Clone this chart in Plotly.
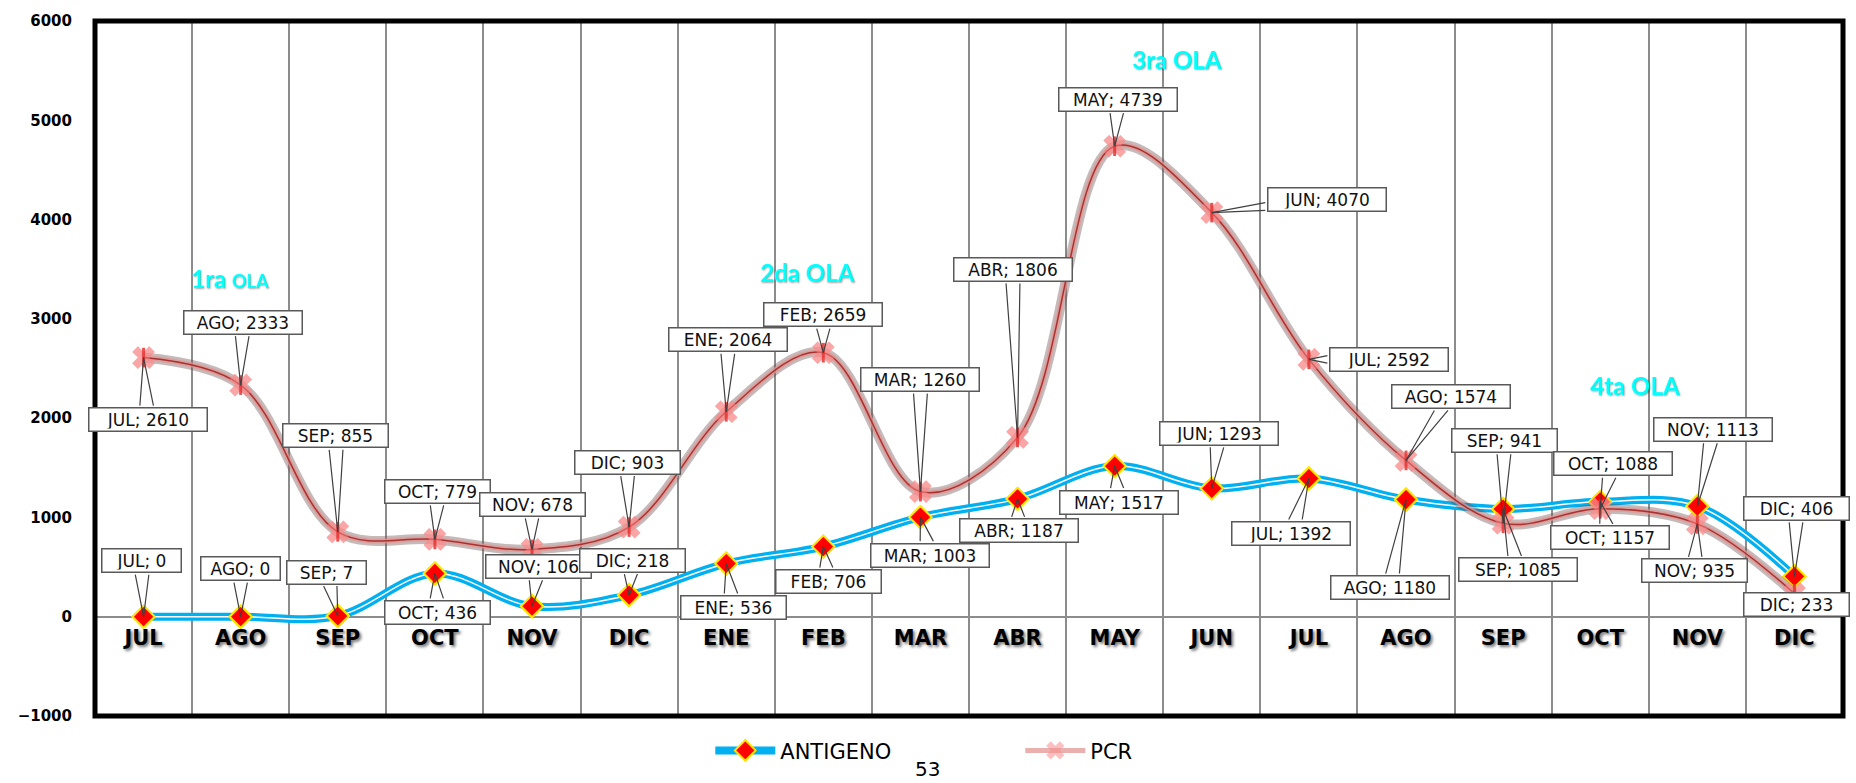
import plotly.graph_objects as go

# datos
months = ["JUL", "AGO", "SEP", "OCT", "NOV", "DIC", "ENE", "FEB", "MAR",
          "ABR", "MAY", "JUN", "JUL", "AGO", "SEP", "OCT", "NOV", "DIC"]
antigeno = [0, 0, 7, 436, 106, 218, 536, 706, 1003, 1187, 1517, 1293,
            1392, 1180, 1085, 1157, 1113, 406]
pcr = [2610, 2333, 855, 779, 678, 903, 2064, 2659, 1260, 1806, 4739, 4070,
       2592, 1574, 941, 1088, 935, 233]
olas = ["1ra <span style='font-size:18px'>OLA</span>", "2da OLA", "3ra OLA", "4ta OLA"]

# posiciones de las etiquetas (pixeles, relativo al punto)
pcr_off = [(4, 62), (2, -63), (-2, -96), (3, -48), (0, -45), (-2, -65), (2, -72),
           (0, -38), (0, -112), (-5, -168), (3, -47), (115, -13), (80, 0),
           (45, -64), (1, -83), (13, -45), (-3, 47), (2, 11)]
ant_off = [(-2, -56), (0, -48), (-11, -44), (3, 39), (6, -40), (3, -35), (7, 44),
           (5, 35), (10, 38), (1, 32), (4, 36), (7, -55), (-18, 55), (-16, 88),
           (15, 61), (10, 36), (16, -77), (2, -68)]
ola_pos = [(0.89, 3410), (6.83, 3470), (10.64, 5614), (15.36, 2330)]

y_min, y_max = -1000, 6000
x = list(range(len(months)))

fig = go.Figure()

# ANTIGENO
fig.add_trace(go.Scatter(
    x=x, y=antigeno, name="ANTIGENO", mode="lines+markers",
    line=dict(color="#00B0F0", width=8, shape="spline", smoothing=1),
    marker=dict(symbol="diamond", size=17, color="red", line=dict(color="#FFE600", width=2))))
fig.add_trace(go.Scatter(
    x=x, y=antigeno, mode="lines", showlegend=False, hoverinfo="skip",
    line=dict(color="white", width=1.5, shape="spline", smoothing=1)))
fig.add_trace(go.Scatter(
    x=x, y=antigeno, mode="markers", showlegend=False,
    marker=dict(symbol="diamond", size=17, color="red", line=dict(color="#FFE600", width=2))))

# PCR
fig.add_trace(go.Scatter(
    x=x, y=pcr, mode="lines", showlegend=False, hoverinfo="skip",
    line=dict(color="rgba(110,80,80,0.4)", width=10, shape="spline", smoothing=1)))
fig.add_trace(go.Scatter(
    x=x, y=pcr, name="PCR", mode="lines+markers",
    line=dict(color="rgba(225,150,145,0.75)", width=5, shape="spline", smoothing=1),
    marker=dict(symbol="x", size=20, color="rgba(250,140,140,0.55)")))
fig.add_trace(go.Scatter(
    x=x, y=pcr, mode="lines", showlegend=False, hoverinfo="skip",
    line=dict(color="#A83232", width=1.5, shape="spline", smoothing=1)))
fig.add_trace(go.Scatter(
    x=x, y=pcr, mode="markers", showlegend=False, hoverinfo="skip",
    marker=dict(symbol="x", size=20, color="rgba(250,140,140,0.5)")))
fig.add_trace(go.Scatter(
    x=x, y=pcr, mode="markers", showlegend=False, hoverinfo="skip",
    marker=dict(symbol="line-ns", size=14, line=dict(color="rgba(230,50,50,0.85)", width=3))))


def box_width(txt):
    return 13 * len(txt) + 3


arrows = []
labels = []
for vals, offs in ((pcr, pcr_off), (antigeno, ant_off)):
    for i, (v, (dx, dy)) in enumerate(zip(vals, offs)):
        txt = f"{months[i]}; {v}"
        w = box_width(txt)
        hw, hh = w / 2, 12.5
        sx = hw / abs(dx) if dx else 1e9
        sy = hh / abs(dy) if dy else 1e9
        s = min(sx, sy)
        if s < 1:
            ex, ey = dx * (1 - s), dy * (1 - s)
            if sy < sx:
                tails = [(ex - 7, ey), (ex + 7, ey)]
            else:
                tails = [(ex, ey - 4), (ex, ey + 4)]
            for tx, ty in tails:
                arrows.append(dict(x=i, y=v, ax=tx, ay=ty, text="", showarrow=True,
                                   arrowhead=0, arrowwidth=1.2, arrowcolor="#404040",
                                   standoff=0, startstandoff=0))
        labels.append(dict(x=i, y=v, xshift=dx, yshift=-dy, text=txt, showarrow=False,
                           width=w - 7, height=18, borderpad=2, borderwidth=1.5,
                           bordercolor="#595959", bgcolor="white",
                           font=dict(family="DejaVu Sans", size=17, color="#111111")))

ola_ann = [dict(x=px, y=py, text=t, showarrow=False,
                font=dict(family="Lato", size=24, color="#00FFFF", weight="bold",
                          shadow="1px 1px 2px rgba(0,0,0,0.35)"))
           for t, (px, py) in zip(olas, ola_pos)]

page = dict(x=0.476, y=-0.056, xref="paper", yref="paper", yanchor="top", text="53",
            showarrow=False, font=dict(family="DejaVu Sans", size=20, color="black"))

fig.update_layout(
    width=1856, height=783,
    margin=dict(l=95, r=13, t=14, b=57),
    plot_bgcolor="white", paper_bgcolor="white",
    showlegend=True,
    legend=dict(orientation="h", x=0.352, xanchor="left", y=-0.05, yanchor="middle",
                font=dict(family="DejaVu Sans", size=21, color="black"),
                itemwidth=60, entrywidth=235, bgcolor="rgba(0,0,0,0)"),
    annotations=arrows + labels + ola_ann + [page],
    shapes=[dict(type="rect", xref="paper", yref="paper", x0=0, x1=1, y0=0, y1=1,
                 line=dict(color="black", width=5), layer="above")],
)

fig.update_xaxes(
    range=[-0.5, len(months) - 0.5], tickmode="array", tickvals=x, ticktext=months,
    anchor="free", position=(0 - y_min) / (y_max - y_min),
    showline=False, showgrid=False, zeroline=False, ticks="", ticklabelstandoff=6,
    tickfont=dict(family="DejaVu Sans", size=21, color="black", weight="bold",
                  shadow="2px 2px 3px #777777"),
    minor=dict(tickmode="array", tickvals=[i + 0.5 for i in x[:-1]], showgrid=True,
               gridcolor="#8C8C8C", gridwidth=1.5, ticks=""),
)
fig.update_yaxes(
    range=[y_min, y_max], dtick=1000, showgrid=False, showline=False,
    zeroline=True, zerolinecolor="#8C8C8C", zerolinewidth=1.5,
    ticks="", ticklabelstandoff=22,
    tickfont=dict(family="DejaVu Sans", size=15, color="black", weight="bold"),
)

fig.write_html("out.html", config={"displayModeBar": False},
               post_script="document.body.style.margin='0';")
